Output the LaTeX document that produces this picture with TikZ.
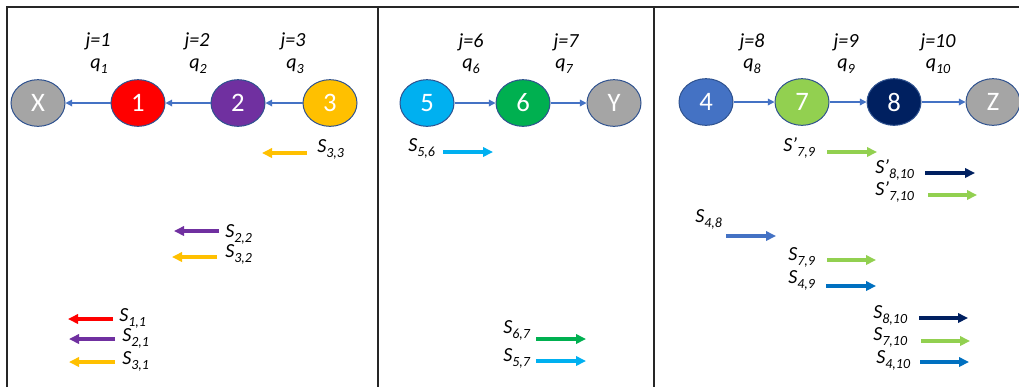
\documentclass[tikz,border=0pt]{standalone}
\usepackage{fontspec}
\setmainfont{Carlito}
\usetikzlibrary{arrows.meta,shapes.geometric}
\definecolor{cgray}{HTML}{A5A5A5}
\definecolor{cred}{HTML}{FF0000}
\definecolor{cpurple}{HTML}{7030A0}
\definecolor{cgold}{HTML}{FFC000}
\definecolor{ccyan}{HTML}{00B0F0}
\definecolor{cgreen}{HTML}{00B050}
\definecolor{cblue}{HTML}{4472C4}
\definecolor{clime}{HTML}{92D050}
\definecolor{cnavy}{HTML}{002060}
\definecolor{cmid}{HTML}{0070C0}
\definecolor{cedge}{HTML}{2F528F}
\newcommand\subx[1]{\raisebox{-0.55ex}{\fontsize{10.5}{12}\selectfont #1}}
\newcommand\Sl[1]{{\itshape S\subx{#1}}}
\newcommand\Sp[1]{{\itshape S’\subx{#1}}}
\newcommand\ql[1]{{\itshape q\subx{#1}}}
\tikzset{
  st/.style={ellipse, draw=cedge, line width=0.75pt, minimum width=40.5pt, minimum height=35pt,
    inner sep=0pt, text=white, font=\fontsize{20}{24}\selectfont},
  conn/.style={draw=cblue, line width=0.9pt, -{Triangle[length=5pt,width=5pt]}},
  sarr/.style={line width=2.3pt, -{Triangle[length=7.5pt,width=7pt]}},
  lab/.style={anchor=base west, inner sep=0pt, font=\fontsize{15}{18}\selectfont},
  jl/.style={anchor=base, inner sep=0pt, font=\fontsize{15}{18}\selectfont\itshape},
  frame/.style={line width=0.9pt, draw=black!85}
}
\begin{document}
\begin{tikzpicture}[x=0.75pt,y=-0.75pt]
\useasboundingbox (0,0) rectangle (1019,387);
% frames
\draw[frame] (7,387) -- (7,7) -- (1019,7);
\draw[frame] (378,7) -- (378,387);
\draw[frame] (654,7) -- (654,387);

% ---------- panel 1 ----------
\node[st, fill=cgray] (X) at (38,103) {X};
\node[st, fill=cred] (n1) at (138,103) {1};
\node[st, fill=cpurple] (n2) at (238,103) {2};
\node[st, fill=cgold] (n3) at (330,103) {3};
\draw[conn] (n3) -- (n2);
\draw[conn] (n2) -- (n1);
\draw[conn] (n1) -- (X);
\node[jl] (j1) at (98,46) {j=1};
\node[jl] (q1) at (99,68) {\ql{1}};
\node[jl] (j2) at (197,46) {j=2};
\node[jl] (q2) at (198,68) {\ql{2}};
\node[jl] (j3) at (293,46) {j=3};
\node[jl] (q3) at (295,68) {\ql{3}};

\draw[sarr, cgold] (307,153) -- (262,153);
\node[lab] (s33) at (317,152) {\Sl{3,3}};
\draw[sarr, cpurple] (219,231) -- (174,231);
\node[lab] (s22) at (225,237) {\Sl{2,2}};
\draw[sarr, cgold] (217,257) -- (172,257);
\node[lab] (s32) at (225,257) {\Sl{3,2}};
\draw[sarr, cred] (113,319) -- (68,319);
\node[lab] (s11) at (119,321) {\Sl{1,1}};
\draw[sarr, cpurple] (115,339) -- (69,339);
\node[lab] (s21) at (122,341) {\Sl{2,1}};
\draw[sarr, cgold] (115,362) -- (69,362);
\node[lab] (s31) at (122,364) {\Sl{3,1}};

% ---------- panel 2 ----------
\node[st, fill=ccyan] (n5) at (427,103) {5};
\node[st, fill=cgreen] (n6) at (523,103) {6};
\node[st, fill=cgray] (Y) at (614,103) {Y};
\draw[conn] (n5) -- (n6);
\draw[conn] (n6) -- (Y);
\node[jl] (j6) at (471,47) {j=6};
\node[jl] (q6) at (471,68) {\ql{6}};
\node[jl] (j7) at (566,47) {j=7};
\node[jl] (q7) at (564,68) {\ql{7}};

\node[lab] (s56) at (408,151) {\Sl{5,6}};
\draw[sarr, ccyan] (443,152) -- (493,152);
\node[lab] (s67) at (503,333) {\Sl{6,7}};
\draw[sarr, cgreen] (536,339) -- (586,339);
\node[lab] (s57) at (503,361) {\Sl{5,7}};
\draw[sarr, ccyan] (536,361) -- (586,361);

% ---------- panel 3 ----------
\node[st, fill=cblue] (n4) at (706,102) {4};
\node[st, fill=clime] (n7) at (802,102) {7};
\node[st, fill=cnavy] (n8) at (894,102) {8};
\node[st, fill=cgray] (Z) at (993,102) {Z};
\draw[conn] (n4) -- (n7);
\draw[conn] (n7) -- (n8);
\draw[conn] (n8) -- (Z);
\node[jl] (j8) at (752,47) {j=8};
\node[jl] (q8) at (752,68) {\ql{8}};
\node[jl] (j9) at (846,47) {j=9};
\node[jl] (q9) at (846,68) {\ql{9}};
\node[jl] (j10) at (938,47) {j=10};
\node[jl] (q10) at (938,68) {\ql{10}};

\node[lab] (sp79) at (783,151) {\Sp{7,9}};
\draw[sarr, clime] (827,152) -- (877,152);
\node[lab] (sp810) at (875,173) {\Sp{8,10}};
\draw[sarr, cnavy] (925,173) -- (975,173);
\node[lab] (sp710) at (875,195) {\Sp{7,10}};
\draw[sarr, clime] (928,195) -- (977,195);

\node[lab] (s48) at (695,222) {\Sl{4,8}};
\draw[sarr, cblue] (726,236) -- (776,236);
\node[lab] (s79) at (788,260) {\Sl{7,9}};
\draw[sarr, clime] (827,260) -- (876,260);
\node[lab] (s49) at (788,283) {\Sl{4,9}};
\draw[sarr, cmid] (826,286) -- (876,286);
\node[lab] (s810) at (873,318) {\Sl{8,10}};
\draw[sarr, cnavy] (919,318) -- (968,318);
\node[lab] (s710) at (873,340) {\Sl{7,10}};
\draw[sarr, clime] (921,341) -- (970,341);
\node[lab] (s410) at (876,363) {\Sl{4,10}};
\draw[sarr, cmid] (920,362) -- (969,362);
\end{tikzpicture}
\end{document}
